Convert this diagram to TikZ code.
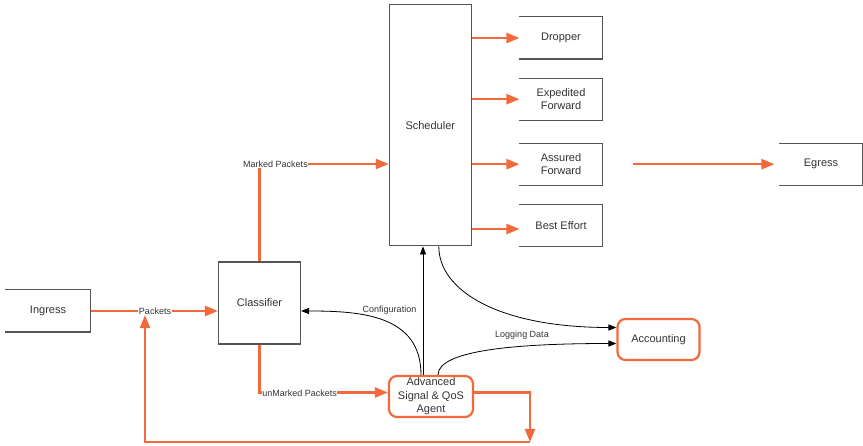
\documentclass[tikz,border=0pt]{standalone}
\usepackage{fontspec}
\setmainfont{Liberation Sans}
\usetikzlibrary{arrows.meta,calc}
\definecolor{flow}{HTML}{F26A3B}
\definecolor{edge}{HTML}{555555}
\definecolor{ink}{HTML}{333333}
\begin{document}
\begin{tikzpicture}[x=1pt,y=-1pt,
  box/.style={draw=edge,line width=1.1pt,minimum width=82pt,minimum height=41pt,
    inner sep=0pt,font=\fontsize{11}{13.5}\selectfont,text=ink,align=center},
  openbox/.style={box,draw=none},
  roundbox/.style={box,draw=flow,line width=2.2pt,rounded corners=8pt},
  flowline/.style={draw=flow,line width=2.4pt},
  flowarrow/.style={flowline,-{Triangle[length=13pt,width=10pt]}},
  ctrl/.style={draw=black,line width=0.8pt,-{Triangle[length=8pt,width=6pt]}},
  lbl/.style={font=\fontsize{9}{10}\selectfont,text=ink,fill=white,inner sep=0.6pt}
]
\useasboundingbox (0,0) rectangle (863,446);

% boxes
\node[openbox,minimum width=84pt] (ingress) at (48,311) {Ingress};
\node[box,minimum height=82pt] (classifier) at (259.5,303) {Classifier};
\node[box,minimum height=241pt] (scheduler) at (430.3,125.4) {Scheduler};
\node[openbox] (dropper) at (561,38) {Dropper};
\node[openbox] (expedited) at (561,99.2) {Expedited\\Forward};
\node[openbox] (assured) at (561,164.2) {Assured\\Forward};
\node[openbox] (besteffort) at (561,225.5) {Best Effort};
\node[openbox] (egress) at (821,164.2) {Egress};
\node[roundbox] (accounting) at (658.5,339.5) {Accounting};
\node[roundbox,minimum width=84pt] (agent) at (431,396.5) {Advanced\\Signal \& QoS\\Agent};

% boxes open on their left side
\foreach \n in {ingress,dropper,expedited,assured,besteffort,egress}
  \draw[edge,line width=1.1pt] (\n.north west) -- (\n.north east) -- (\n.south east) -- (\n.south west);

% packet flow
\coordinate (mk) at (259.5,164);
\coordinate (um) at (259.5,392.5);
\coordinate (drop) at (530,442);
\coordinate (back) at (145,442);
\coordinate (eg) at (633,164.2);
\coordinate (beIn) at ([yshift=-3.5pt]besteffort.west);

\draw[flowarrow] (ingress.east) -- (classifier.west |- ingress.east);
\draw[flowarrow] (classifier.north) -- (mk) -- (scheduler.west |- mk);
\draw[flowarrow] (classifier.south) -- (um) -- (agent.west |- um);
\foreach \n in {dropper,expedited,assured}
  \draw[flowarrow] (scheduler.east |- \n.west) -- (\n.west);
\draw[flowarrow] (scheduler.east |- beIn) -- (beIn);
\draw[flowarrow] (eg) -- ([xshift=-5pt]egress.west);
\draw[flowarrow] ([yshift=4pt]agent.east) -| (drop);

% control and logging
\coordinate (up) at ([xshift=-8pt]agent.north);
\draw[ctrl] (up) -- (scheduler.south -| up);
\draw[ctrl] ([xshift=-10pt]agent.north) .. controls +(0,-60) and +(60,0) .. ([yshift=-8pt]classifier.east);
\draw[ctrl] ([xshift=7pt]agent.north) .. controls +(0,-25) and +(-98,0) .. ([yshift=-4pt]accounting.west);
\draw[ctrl] ([xshift=8.5pt]scheduler.south) .. controls +(0,44) and +(-118,0) .. ([yshift=12pt]accounting.west);

% labels
\node[lbl] (pk) at (155,311) {Packets};
\node[lbl] (mkl) at (275.5,164) {Marked Packets};
\node[lbl,anchor=west] (uml) at (261.5,393) {unMarked Packets};
\node[lbl,fill=none] (cfg) at (389.5,310.5) {Configuration};
\node[lbl,fill=none] (logl) at (522,335) {Logging Data};

% feedback loop back to the ingress packets
\draw[flowarrow] (drop) -| (pk.south -| back);
\end{tikzpicture}
\end{document}
